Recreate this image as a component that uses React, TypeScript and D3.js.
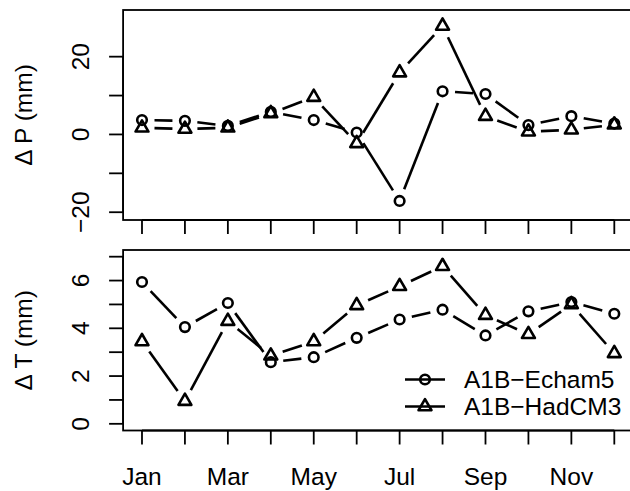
import * as d3 from "d3";
import { useEffect, useRef } from "react";

// month index 1..12
const months = ["Jan", "Feb", "Mar", "Apr", "May", "Jun", "Jul", "Aug", "Sep", "Oct", "Nov", "Dec"];
const monthLabels = ["Jan", "Mar", "May", "Jul", "Sep", "Nov"];

// precipitation change (mm)
const dpEcham5 = [3.7, 3.5, 2.2, 5.8, 3.7, 0.5, -17.1, 11.1, 10.4, 2.4, 4.7, 2.8];
const dpHadCM3 = [1.7, 1.4, 1.7, 5.4, 9.6, -2.3, 15.9, 27.9, 4.7, 0.7, 1.2, 2.5];

// temperature change
const dtEcham5 = [5.94, 4.05, 5.06, 2.58, 2.79, 3.6, 4.37, 4.78, 3.7, 4.71, 5.1, 4.61];
const dtHadCM3 = [3.45, 0.95, 4.3, 2.85, 3.45, 4.96, 5.76, 6.6, 4.55, 3.75, 5.0, 2.95];

const pTicks = [-20, -10, 0, 10, 20];
const pTickLabels = [-20, 0, 20];
const tTicks = [0, 1, 2, 3, 4, 5, 6, 7];
const tTickLabels = [0, 2, 4, 6];

const seriesNames = ["A1B\u2212Echam5", "A1B\u2212HadCM3"];

const W = 630;
const H = 491;
const FONT = "Liberation Sans, Arial, Helvetica, sans-serif";
const FS = 24.5;
const XC = 4.8; // symbol radius
const GAP = 12.5; // type="b" gap
const LW = 2.6;

const App = () => {
  const svgRef = useRef(null);

  const drawChart = () => {
    d3.select(svgRef.current).selectAll("*").remove();
    const svg = d3.select(svgRef.current).attr("width", W).attr("height", H);

    const left = 123.1;
    const right = 633.2;
    const x = d3.scaleLinear().domain([0.56, 12.44]).range([left, right]);

    const trianglePath = (cx, cy) => {
      const r = 1.5551 * XC;
      const yc = 0.7776 * XC;
      const w = 1.3468 * XC;
      return `M${cx},${cy - r}L${cx + w},${cy + yc}L${cx - w},${cy + yc}Z`;
    };

    const drawSeries = (g, y, vals, pch) => {
      const pts = vals.map((v, i) => [x(i + 1), y(v)]);
      for (let i = 1; i < pts.length; i++) {
        const [x0, y0] = pts[i - 1];
        const [x1, y1] = pts[i];
        const f = Math.hypot(x1 - x0, y1 - y0);
        if (f > 2 * GAP) {
          const ux = (x1 - x0) / f;
          const uy = (y1 - y0) / f;
          g.append("line")
            .attr("x1", x0 + GAP * ux)
            .attr("y1", y0 + GAP * uy)
            .attr("x2", x1 - GAP * ux)
            .attr("y2", y1 - GAP * uy)
            .attr("stroke", "#000")
            .attr("stroke-width", LW);
        }
      }
      pts.forEach(([px, py]) => {
        if (pch === 1) {
          g.append("circle")
            .attr("cx", px)
            .attr("cy", py)
            .attr("r", XC)
            .attr("fill", "none")
            .attr("stroke", "#000")
            .attr("stroke-width", LW);
        } else {
          g.append("path")
            .attr("d", trianglePath(px, py))
            .attr("fill", "none")
            .attr("stroke", "#000")
            .attr("stroke-width", LW)
            .attr("stroke-linejoin", "round");
        }
      });
    };

    const drawPanel = (top, bottom, y, ticks, tickLabels, label, showX) => {
      const g = svg.append("g");
      // box
      g.append("rect")
        .attr("x", left)
        .attr("y", top)
        .attr("width", right - left)
        .attr("height", bottom - top)
        .attr("fill", "none")
        .attr("stroke", "#000")
        .attr("stroke-width", 1.8);

      // y axis
      g.append("line")
        .attr("x1", left)
        .attr("x2", left)
        .attr("y1", y(ticks[0]))
        .attr("y2", y(ticks[ticks.length - 1]))
        .attr("stroke", "#000")
        .attr("stroke-width", 1.8);
      ticks.forEach((t) => {
        g.append("line")
          .attr("x1", left - 14)
          .attr("x2", left)
          .attr("y1", y(t))
          .attr("y2", y(t))
          .attr("stroke", "#000")
          .attr("stroke-width", 1.8);
      });
      tickLabels.forEach((t) => {
        g.append("text")
          .attr("transform", `translate(88.5,${y(t)}) rotate(-90)`)
          .attr("text-anchor", "middle")
          .attr("font-family", FONT)
          .attr("font-size", FS)
          .text(t < 0 ? `\u2212${Math.abs(t)}` : `${t}`);
      });
      g.append("text")
        .attr("transform", `translate(32,${(top + bottom) / 2}) rotate(-90)`)
        .attr("text-anchor", "middle")
        .attr("font-family", FONT)
        .attr("font-size", FS)
        .text(label);

      // x axis ticks
      months.forEach((m, i) => {
        g.append("line")
          .attr("x1", x(i + 1))
          .attr("x2", x(i + 1))
          .attr("y1", bottom)
          .attr("y2", bottom + 14)
          .attr("stroke", "#000")
          .attr("stroke-width", 1.8);
      });
      g.append("line")
        .attr("x1", x(1))
        .attr("x2", x(12))
        .attr("y1", bottom)
        .attr("y2", bottom)
        .attr("stroke", "#000")
        .attr("stroke-width", 1.8);
      if (showX) {
        monthLabels.forEach((m) => {
          const i = months.indexOf(m);
          g.append("text")
            .attr("x", x(i + 1))
            .attr("y", bottom + 54.5)
            .attr("text-anchor", "middle")
            .attr("font-family", FONT)
            .attr("font-size", FS)
            .text(m);
        });
      }
      return g;
    };

    // top panel
    const yP = d3.scaleLinear().domain([-22, 32]).range([220, 10]);
    const gP = drawPanel(10, 220, yP, pTicks, pTickLabels, "\u0394 P  (mm)", false);
    drawSeries(gP, yP, dpEcham5, 1);
    drawSeries(gP, yP, dpHadCM3, 2);

    // bottom panel
    const yT = d3.scaleLinear().domain([-0.28, 7.28]).range([430.5, 250]);
    const gT = drawPanel(250, 430.5, yT, tTicks, tTickLabels, "\u0394 T  (mm)", true);
    drawSeries(gT, yT, dtEcham5, 1);
    drawSeries(gT, yT, dtHadCM3, 2);

    // legend
    const lg = svg.append("g");
    const rows = [379.5, 406.5];
    seriesNames.forEach((name, i) => {
      const ly = rows[i];
      lg.append("line")
        .attr("x1", 405)
        .attr("x2", 445)
        .attr("y1", ly)
        .attr("y2", ly)
        .attr("stroke", "#000")
        .attr("stroke-width", LW);
      if (i === 0) {
        lg.append("circle")
          .attr("cx", 425)
          .attr("cy", ly)
          .attr("r", XC)
          .attr("fill", "none")
          .attr("stroke", "#000")
          .attr("stroke-width", LW);
      } else {
        lg.append("path")
          .attr("d", trianglePath(425, ly))
          .attr("fill", "none")
          .attr("stroke", "#000")
          .attr("stroke-width", LW)
          .attr("stroke-linejoin", "round");
      }
      lg.append("text")
        .attr("x", 464)
        .attr("y", ly + 8.5)
        .attr("font-family", FONT)
        .attr("font-size", FS)
        .text(name);
    });
  };

  useEffect(() => {
    drawChart();
  }, []);

  return (
    <svg
      ref={svgRef}
      style={{ position: "absolute", left: 0, top: 0, background: "#fff" }}
    ></svg>
  );
};

export default App;
